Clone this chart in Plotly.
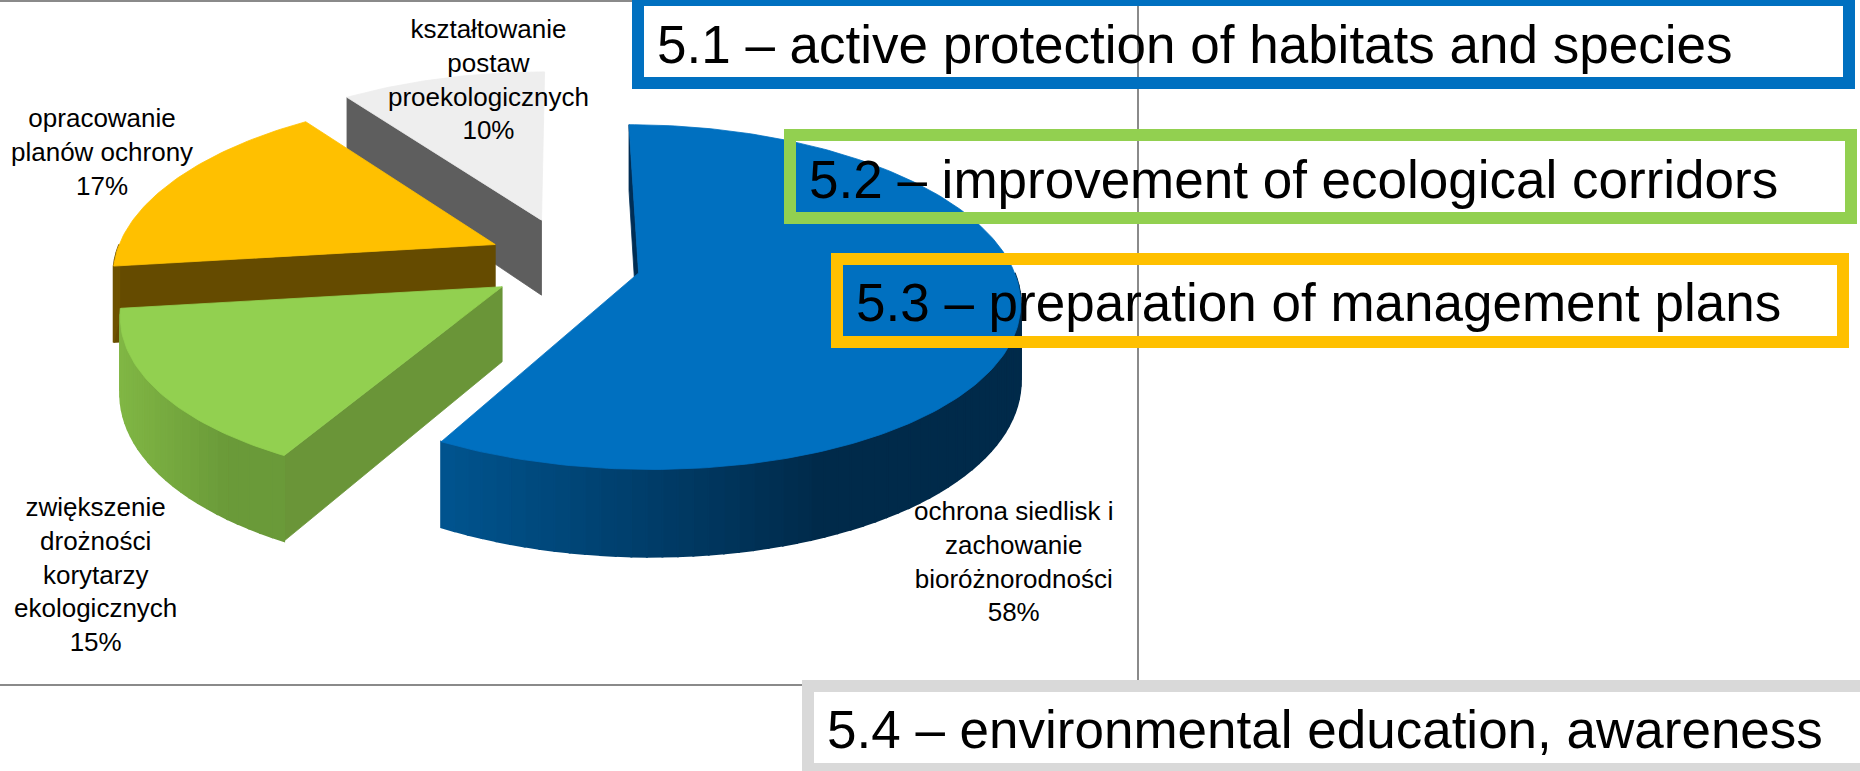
import numpy as np
import plotly.graph_objects as go

# ---------------- data ----------------
categories = [
    "ochrona siedlisk i zachowanie bioróżnorodności",
    "zwiększenie drożności korytarzy ekologicznych",
    "opracowanie planów ochrony",
    "kształtowanie postaw proekologicznych",
]
label_lines = [
    ["ochrona siedlisk i", "zachowanie", "bioróżnorodności"],
    ["zwiększenie", "drożności", "korytarzy", "ekologicznych"],
    ["opracowanie", "planów ochrony"],
    ["kształtowanie", "postaw", "proekologicznych"],
]
values = [58, 15, 17, 10]

measures = [
    "5.1 – active protection of habitats and species",
    "5.2 – improvement of ecological corridors",
    "5.3 – preparation of management plans",
    "5.4 – environmental education, awareness",
]

# ---------------- styles ----------------
top_colors = ["#0070C0", "#92D050", "#FFC000", "#EEEEEE"]
wall_left = ["#00548F", "#80B644", "#6E5200", "#5E5E5E"]
wall_right = ["#002A4A", "#6A9A39", "#6E5200", "#5E5E5E"]
cut_colors = ["#002E55", "#6A9538", "#654B00", "#5E5E5E"]
label_pos = [(1013, 561), (95, 574), (102, 152), (488, 79)]
label_font = dict(family="Liberation Sans, Arial, sans-serif", size=26, color="black")

measure_colors = ["#0070C0", "#92D050", "#FFC000", "#D9D9D9"]
measure_boxes = [(638, 0, 1849, 83), (790, 135, 1851, 218),
                 (837, 259, 1843, 342), (808, 686, 1878, 769)]
measure_text_pos = [(655, 44), (807, 179), (854, 302), (825, 729)]

W, H = 1860, 771

# projection parameters of the 3-D pie (screen pixels)
XC, CY = 565, 262      # pie centre
RX, RY = 376, 169      # radii of top face
P, Q = 0.15, 0.14      # perspective factors
D = 75                 # depth
EX, EY = 76, 44        # explode distance


def proj(ax, ay, theta_deg, r=1.0):
    th = np.radians(theta_deg)
    u = r * np.sin(th)
    v = r * np.cos(th)
    s = 1.0 / (1.0 + P * v)
    t = 1.0 / (1.0 + Q * v)
    x = XC + (ax + RX * u - XC) * s
    y = ay - RY * v * t
    return x, y, D * t


def hex2rgb(h):
    h = h.lstrip("#")
    return [int(h[i:i + 2], 16) for i in (0, 2, 4)]


def lerp_col(c1, c2, f):
    a, b = hex2rgb(c1), hex2rgb(c2)
    return "rgb(%d,%d,%d)" % tuple(round(a[i] + (b[i] - a[i]) * f) for i in range(3))


fig = go.Figure()


def poly(xs, ys, color, lw=0.8):
    fig.add_trace(go.Scatter(
        x=list(xs) + [xs[0]], y=list(ys) + [ys[0]], mode="lines",
        fill="toself", fillcolor=color, line=dict(color=color, width=lw),
        hoverinfo="skip", showlegend=False))


total = float(sum(values))
angles = []
cum = 0.0
for v in values:
    a0 = cum
    a1 = cum + 360.0 * v / total
    angles.append((a0, a1))
    cum = a1

# draw order: back to front
order = [3, 2, 0, 1]
for i in order:
    a0, a1 = angles[i]
    m = np.radians((a0 + a1) / 2)
    ax = XC + EX * np.sin(m)
    ay = CY - EY * np.cos(m)

    # cut face along the start edge
    if np.sin(np.radians(a0)) <= 1e-9:
        rx_, ry_, rd_ = proj(ax, ay, a0)
        ax_, ay_, ad_ = proj(ax, ay, a0, 0.0)
        poly([ax_, rx_, rx_, ax_], [ay_, ry_, ry_ + rd_, ay_ + ad_], cut_colors[i])

    # outer curved wall (front half only)
    w0, w1 = max(a0, 90.0), min(a1, 270.0)
    if w1 > w0:
        n = max(2, int((w1 - w0) / 2) + 1)
        th = np.linspace(w0, w1, n)
        pts = [proj(ax, ay, t_) for t_ in th]
        xs_all = [p[0] for p in pts]
        xmin, xmax = min(xs_all), max(xs_all)
        span = max(1.0, (xmax - xmin) * 0.65)
        for k in range(n - 1):
            x1, y1, d1 = pts[k]
            x2, y2, d2 = pts[k + 1]
            f = min(1.0, max(0.0, ((x1 + x2) / 2 - xmin) / span))
            poly([x1, x2, x2, x1], [y1, y2, y2 + d2, y1 + d1],
                 lerp_col(wall_left[i], wall_right[i], f), lw=2)

    # top face
    th = np.linspace(a0, a1, max(3, int(a1 - a0) + 1))
    xs = [ax] + [proj(ax, ay, t_)[0] for t_ in th]
    ys = [ay] + [proj(ax, ay, t_)[1] for t_ in th]
    poly(xs, ys, top_colors[i])

# ---------------- labels ----------------
annotations = []
for i in range(len(values)):
    pct = round(100 * values[i] / total)
    txt = "<br>".join(label_lines[i] + ["%d%%" % pct])
    annotations.append(dict(x=label_pos[i][0], y=label_pos[i][1], text=txt,
                            showarrow=False, xanchor="center", yanchor="middle",
                            align="center", font=label_font))

shapes = [dict(type="rect", x0=-2, y0=1, x1=1138, y1=685, layer="below",
               line=dict(color="#8A8A8A", width=2), fillcolor="rgba(0,0,0,0)")]
for j, txt in enumerate(measures):
    x0, y0, x1, y1 = measure_boxes[j]
    shapes.append(dict(type="rect", x0=x0, y0=y0, x1=x1, y1=y1,
                       line=dict(color=measure_colors[j], width=12),
                       fillcolor="rgba(0,0,0,0)"))
    annotations.append(dict(x=measure_text_pos[j][0], y=measure_text_pos[j][1], text=txt,
                            showarrow=False, xanchor="left", yanchor="middle",
                            font=dict(family="Liberation Sans, Arial, sans-serif",
                                      size=53, color="black")))

fig.update_layout(
    width=W, height=H, margin=dict(l=0, r=0, t=0, b=0),
    paper_bgcolor="white", plot_bgcolor="white",
    xaxis=dict(range=[0, W], visible=False, fixedrange=True),
    yaxis=dict(range=[H, 0], visible=False, fixedrange=True),
    shapes=shapes, annotations=annotations, showlegend=False, hovermode=False,
)

fig.write_html("out.html", config={"displayModeBar": False},
               post_script="document.body.style.margin='0';document.body.style.overflow='hidden';")
